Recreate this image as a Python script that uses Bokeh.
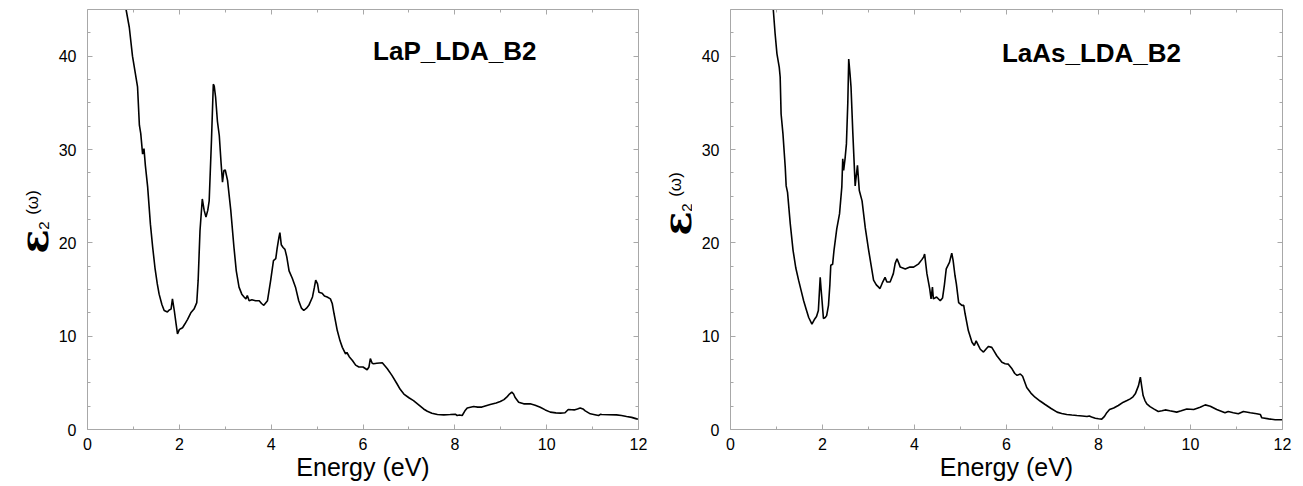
from math import pi
from bokeh.plotting import figure
from bokeh.layouts import row
from bokeh.models import FixedTicker, LinearAxis, Label, Range1d, CustomJSTickFormatter
from bokeh.core.properties import value
from bokeh.embed import file_html
from bokeh.resources import INLINE

# ---------------- data ----------------
lap_energy = [0.78, 0.84, 0.91, 0.98, 1.09, 1.13, 1.16, 1.20, 1.23, 1.26, 1.31, 1.37, 1.42, 1.47, 1.52,
              1.56, 1.62, 1.67, 1.74, 1.78, 1.82, 1.85, 1.89, 1.93, 1.96, 2.00, 2.03, 2.07, 2.12, 2.18,
              2.25, 2.32, 2.38, 2.41, 2.45, 2.50, 2.54, 2.58, 2.62, 2.65, 2.70, 2.74, 2.76, 2.79, 2.83,
              2.87, 2.91, 2.94, 2.97, 3.00, 3.05, 3.12, 3.19, 3.24, 3.30, 3.36, 3.41, 3.45, 3.48, 3.52,
              3.58, 3.66, 3.74, 3.79, 3.84, 3.92, 3.99, 4.05, 4.10, 4.13, 4.17, 4.19, 4.22, 4.26, 4.30,
              4.34, 4.39, 4.46, 4.53, 4.60, 4.66, 4.71, 4.77, 4.82, 4.90, 4.94, 4.97, 5.01, 5.04, 5.11,
              5.16, 5.22, 5.29, 5.33, 5.37, 5.44, 5.50, 5.55, 5.62, 5.65, 5.70, 5.77, 5.84, 5.91, 6.00,
              6.09, 6.13, 6.16, 6.20, 6.23, 6.30, 6.42, 6.48, 6.53, 6.63, 6.74, 6.81, 6.89, 7.00, 7.10,
              7.20, 7.32, 7.40, 7.50, 7.62, 7.76, 7.90, 8.01, 8.05, 8.10, 8.16, 8.22, 8.27, 8.41, 8.50,
              8.59, 8.68, 8.77, 8.90, 8.99, 9.07, 9.13, 9.19, 9.24, 9.28, 9.31, 9.39, 9.50, 9.64, 9.75,
              9.86, 9.97, 10.08, 10.20, 10.30, 10.40, 10.47, 10.55, 10.60, 10.67, 10.73, 10.79, 10.84,
              10.95, 11.05, 11.13, 11.17, 11.20, 11.35, 11.52, 11.63, 11.74, 11.85, 11.96, 12.00]
lap_eps2 = [47.0, 45.0, 43.1, 40.0, 36.7, 32.6, 31.7, 29.5, 30.1, 28.3, 26.0, 22.0, 19.5, 17.3, 15.6,
            14.5, 13.4, 12.75, 12.6, 12.8, 12.9, 14.0, 12.75, 11.3, 10.25, 10.7, 10.8, 10.9, 11.3, 11.8,
            12.5, 12.9, 13.6, 16.0, 21.3, 24.7, 23.5, 22.75, 23.5, 24.5, 31.0, 37.0, 36.8, 35.6, 33.0,
            31.5, 28.5, 26.5, 27.75, 27.8, 26.7, 23.5, 19.5, 17.0, 15.25, 14.5, 14.2, 14.0, 14.35, 13.8,
            13.9, 13.8, 13.8, 13.5, 13.3, 13.8, 16.0, 18.1, 18.3, 19.4, 20.6, 21.1, 19.8, 19.5, 19.3,
            18.5, 17.0, 16.2, 15.25, 13.8, 13.0, 12.75, 13.0, 13.3, 14.2, 15.2, 16.0, 15.6, 14.7, 14.6,
            14.3, 14.2, 14.0, 13.5, 12.4, 10.6, 9.5, 8.8, 8.1, 8.25, 7.8, 7.4, 6.9, 6.7, 6.7,
            6.4, 6.7, 7.6, 7.1, 7.05, 7.1, 7.15, 6.8, 6.5, 5.8, 4.9, 4.3, 3.8, 3.4, 3.1,
            2.7, 2.2, 1.95, 1.75, 1.6, 1.57, 1.6, 1.64, 1.5, 1.55, 1.5, 2.0, 2.3, 2.46, 2.4,
            2.4, 2.55, 2.68, 2.85, 3.0, 3.2, 3.46, 3.8, 4.0, 3.8, 3.46, 2.93, 2.75, 2.75, 2.6,
            2.39, 2.1, 1.86, 1.78, 1.75, 1.8, 2.14, 2.12, 2.1, 2.2, 2.3, 2.2, 2.0,
            1.68, 1.58, 1.5, 1.62, 1.6, 1.58, 1.57, 1.5, 1.39, 1.3, 1.14, 1.12]

laas_energy = [0.90, 0.93, 0.97, 1.01, 1.06, 1.08, 1.10, 1.14, 1.19, 1.21, 1.24, 1.30, 1.36, 1.42, 1.48,
               1.54, 1.59, 1.65, 1.70, 1.77, 1.82, 1.87, 1.91, 1.93, 1.95, 1.97, 1.99, 2.02, 2.06, 2.09,
               2.13, 2.16, 2.18, 2.22, 2.25, 2.31, 2.37, 2.42, 2.44, 2.46, 2.49, 2.52, 2.55, 2.57, 2.60,
               2.62, 2.66, 2.71, 2.76, 2.80, 2.86, 2.93, 3.00, 3.06, 3.11, 3.17, 3.22, 3.25, 3.30, 3.33,
               3.36, 3.40, 3.47, 3.54, 3.58, 3.62, 3.66, 3.69, 3.80, 3.90, 3.98, 4.09, 4.16, 4.20, 4.22,
               4.27, 4.33, 4.36, 4.39, 4.41, 4.48, 4.56, 4.61, 4.65, 4.69, 4.76, 4.81, 4.84, 4.88, 4.91,
               4.96, 5.03, 5.07, 5.10, 5.17, 5.25, 5.30, 5.34, 5.38, 5.43, 5.50, 5.57, 5.61, 5.68, 5.73,
               5.79, 5.90, 5.97, 6.04, 6.12, 6.18, 6.23, 6.30, 6.35, 6.44, 6.53, 6.62, 6.73, 6.84, 6.97,
               7.10, 7.20, 7.31, 7.42, 7.53, 7.65, 7.75, 7.80, 7.85, 7.93, 8.00, 8.07, 8.13, 8.18, 8.24,
               8.33, 8.43, 8.54, 8.62, 8.69, 8.75, 8.80, 8.87, 8.91, 8.94, 8.97, 9.01, 9.05, 9.12, 9.20,
               9.30, 9.38, 9.45, 9.55, 9.70, 9.80, 9.92, 10.07, 10.21, 10.32, 10.43, 10.57, 10.75, 10.82,
               10.93, 11.04, 11.15, 11.30, 11.44, 11.52, 11.55, 11.70, 11.84, 12.00]
laas_eps2 = [47.0, 45.0, 42.4, 40.25, 38.8, 37.75, 33.8, 31.7, 28.1, 26.1, 25.4, 22.0, 19.2, 17.3, 16.0,
             14.8, 13.8, 12.8, 12.0, 11.3, 11.75, 12.1, 12.75, 14.5, 16.3, 15.0, 13.8, 11.9, 12.0, 12.2,
             13.3, 15.5, 17.6, 17.7, 19.2, 21.5, 23.1, 26.0, 29.0, 27.75, 29.0, 30.6, 35.0, 39.7, 38.0,
             36.7, 31.7, 26.1, 28.3, 25.6, 24.5, 21.6, 19.3, 17.5, 16.0, 15.5, 15.25, 15.1, 15.7, 16.0,
             16.3, 15.8, 15.8, 16.7, 17.8, 18.3, 17.8, 17.4, 17.2, 17.4, 17.4, 17.75, 18.2, 18.5, 18.8,
             16.7, 15.1, 14.0, 15.25, 14.0, 14.2, 13.8, 14.1, 15.5, 17.2, 17.9, 18.9, 18.1, 16.5, 15.6,
             13.6, 13.3, 13.3, 12.4, 10.6, 9.35, 9.0, 9.5, 9.1, 8.6, 8.3, 8.7, 8.9, 8.8, 8.4,
             7.9, 7.2, 7.05, 7.0, 6.5, 6.0, 5.8, 5.95, 5.7, 4.5, 3.9, 3.46, 3.05, 2.68, 2.25,
             1.86, 1.72, 1.61, 1.55, 1.5, 1.45, 1.39, 1.45, 1.35, 1.21, 1.15, 1.11, 1.4, 1.8, 2.14,
             2.3, 2.57, 2.93, 3.1, 3.28, 3.5, 3.82, 4.7, 5.6, 4.6, 3.64, 3.1, 2.75, 2.45, 2.21,
             1.93, 2.0, 2.1, 2.0, 1.86, 2.0, 2.2, 2.15, 2.39, 2.64, 2.5, 2.14, 1.79, 1.93,
             1.8, 1.68, 1.93, 1.79, 1.68, 1.6, 1.25, 1.14, 1.04, 1.04]

x_major = [0, 2, 4, 6, 8, 10, 12]
x_minor = [1, 3, 5, 7, 9, 11]
y_major = [0, 10, 20, 30, 40]
y_minor = [2.5, 5, 7.5, 12.5, 15, 17.5, 22.5, 25, 27.5, 32.5, 35, 37.5, 42.5]

titles = ["LaP_LDA_B2", "LaAs_LDA_B2"]
x_label = "Energy (eV)"
y_label_parts = ["\u03b5", "2", "(\u03c9)"]   # epsilon, subscript 2, (omega)

AX_COLOR = "#a8a8a8"
FONT = "Liberation Sans"
H = 486
TOP, BOTTOM = 9, 57


def style_axis(ax, ticks, minor, labels=True):
    ax.ticker = FixedTicker(ticks=ticks, minor_ticks=minor)
    ax.axis_line_color = AX_COLOR
    ax.major_tick_line_color = AX_COLOR
    ax.minor_tick_line_color = AX_COLOR
    ax.major_tick_in = 5
    ax.major_tick_out = 0
    ax.minor_tick_in = 3
    ax.minor_tick_out = 0
    ax.major_label_text_font = FONT
    ax.major_label_text_font_size = "16px"
    ax.major_label_text_color = "black"
    if not labels:
        ax.formatter = CustomJSTickFormatter(code="return ''")
        ax.major_label_standoff = 0


def make(energy, eps2, title, tx, ty, width, left, right):
    p = figure(width=width, height=H, x_range=Range1d(0, 12), y_range=Range1d(0, 45),
               output_backend="svg", toolbar_location=None,
               min_border_left=left, min_border_right=right,
               min_border_top=TOP, min_border_bottom=BOTTOM)
    p.grid.visible = False
    p.outline_line_color = None

    p.line(energy, eps2, line_color="black", line_width=1.6)

    xa = p.below[0]
    style_axis(xa, x_major, x_minor)
    xa.major_label_standoff = 8
    xa.axis_label = x_label
    xa.axis_label_text_font = FONT
    xa.axis_label_text_font_size = "25px"
    xa.axis_label_text_font_style = "normal"
    xa.axis_label_text_color = "black"
    xa.axis_label_standoff = 0

    ya = p.left[0]
    style_axis(ya, y_major, y_minor)
    ya.major_label_standoff = 11

    top = LinearAxis()
    style_axis(top, x_major, x_minor, labels=False)
    p.add_layout(top, "above")
    rgt = LinearAxis()
    style_axis(rgt, y_major, y_minor, labels=False)
    p.add_layout(rgt, "right")

    p.add_layout(Label(x=tx, y=ty, text=title, text_font=FONT, text_font_size="26px",
                       text_font_style="bold", text_color="black",
                       text_align="left", text_baseline="alphabetic"))
    return p


def label_fig(x0, width, ex, ey):
    """Narrow strip holding the vertical y-axis title.
    Its frame is aligned with the neighbouring plot frame; x is canvas px and
    y is (H - canvas px), so positions can be given as canvas pixels."""
    q = figure(width=width, height=H, x_range=Range1d(x0, x0 + width),
               y_range=Range1d(BOTTOM, H - TOP),
               output_backend="svg", toolbar_location=None,
               x_axis_location=None, y_axis_location=None,
               min_border_left=0, min_border_right=0,
               min_border_top=TOP, min_border_bottom=BOTTOM)
    q.grid.visible = False
    q.outline_line_color = None
    yb = H - ey
    q.text(x=[ex], y=[yb], text=[y_label_parts[0]], angle=pi / 2,
           text_font=value("DejaVu Serif"), text_font_size="40px", text_font_style="bold",
           text_color="black", text_align="center", text_baseline="alphabetic")
    q.text(x=[ex + 10], y=[yb + 16], text=[y_label_parts[1]], angle=pi / 2,
           text_font=value(FONT), text_font_size="15px",
           text_color="black", text_align="center", text_baseline="alphabetic")
    q.text(x=[ex - 1.5], y=[yb + 39], text=[y_label_parts[2]], angle=pi / 2,
           text_font=value(FONT), text_font_size="17px",
           text_color="black", text_align="center", text_baseline="alphabetic")
    return q


# canvas layout: [strip 0-54][plot 54-648, frame 87-638][strip 648-692][plot 692-1303, frame 730-1282]
lab1 = label_fig(0, 54, 33, 241)
p1 = make(lap_energy, lap_eps2, titles[0], 6.22, 40.6, 594, 33, 10)
lab2 = label_fig(648, 44, 676, 223)
p2 = make(laas_energy, laas_eps2, titles[1], 5.90, 40.3, 611, 38, 21)

layout = row(lab1, p1, lab2, p2)
open("out.html", "w").write(file_html(layout, INLINE))
